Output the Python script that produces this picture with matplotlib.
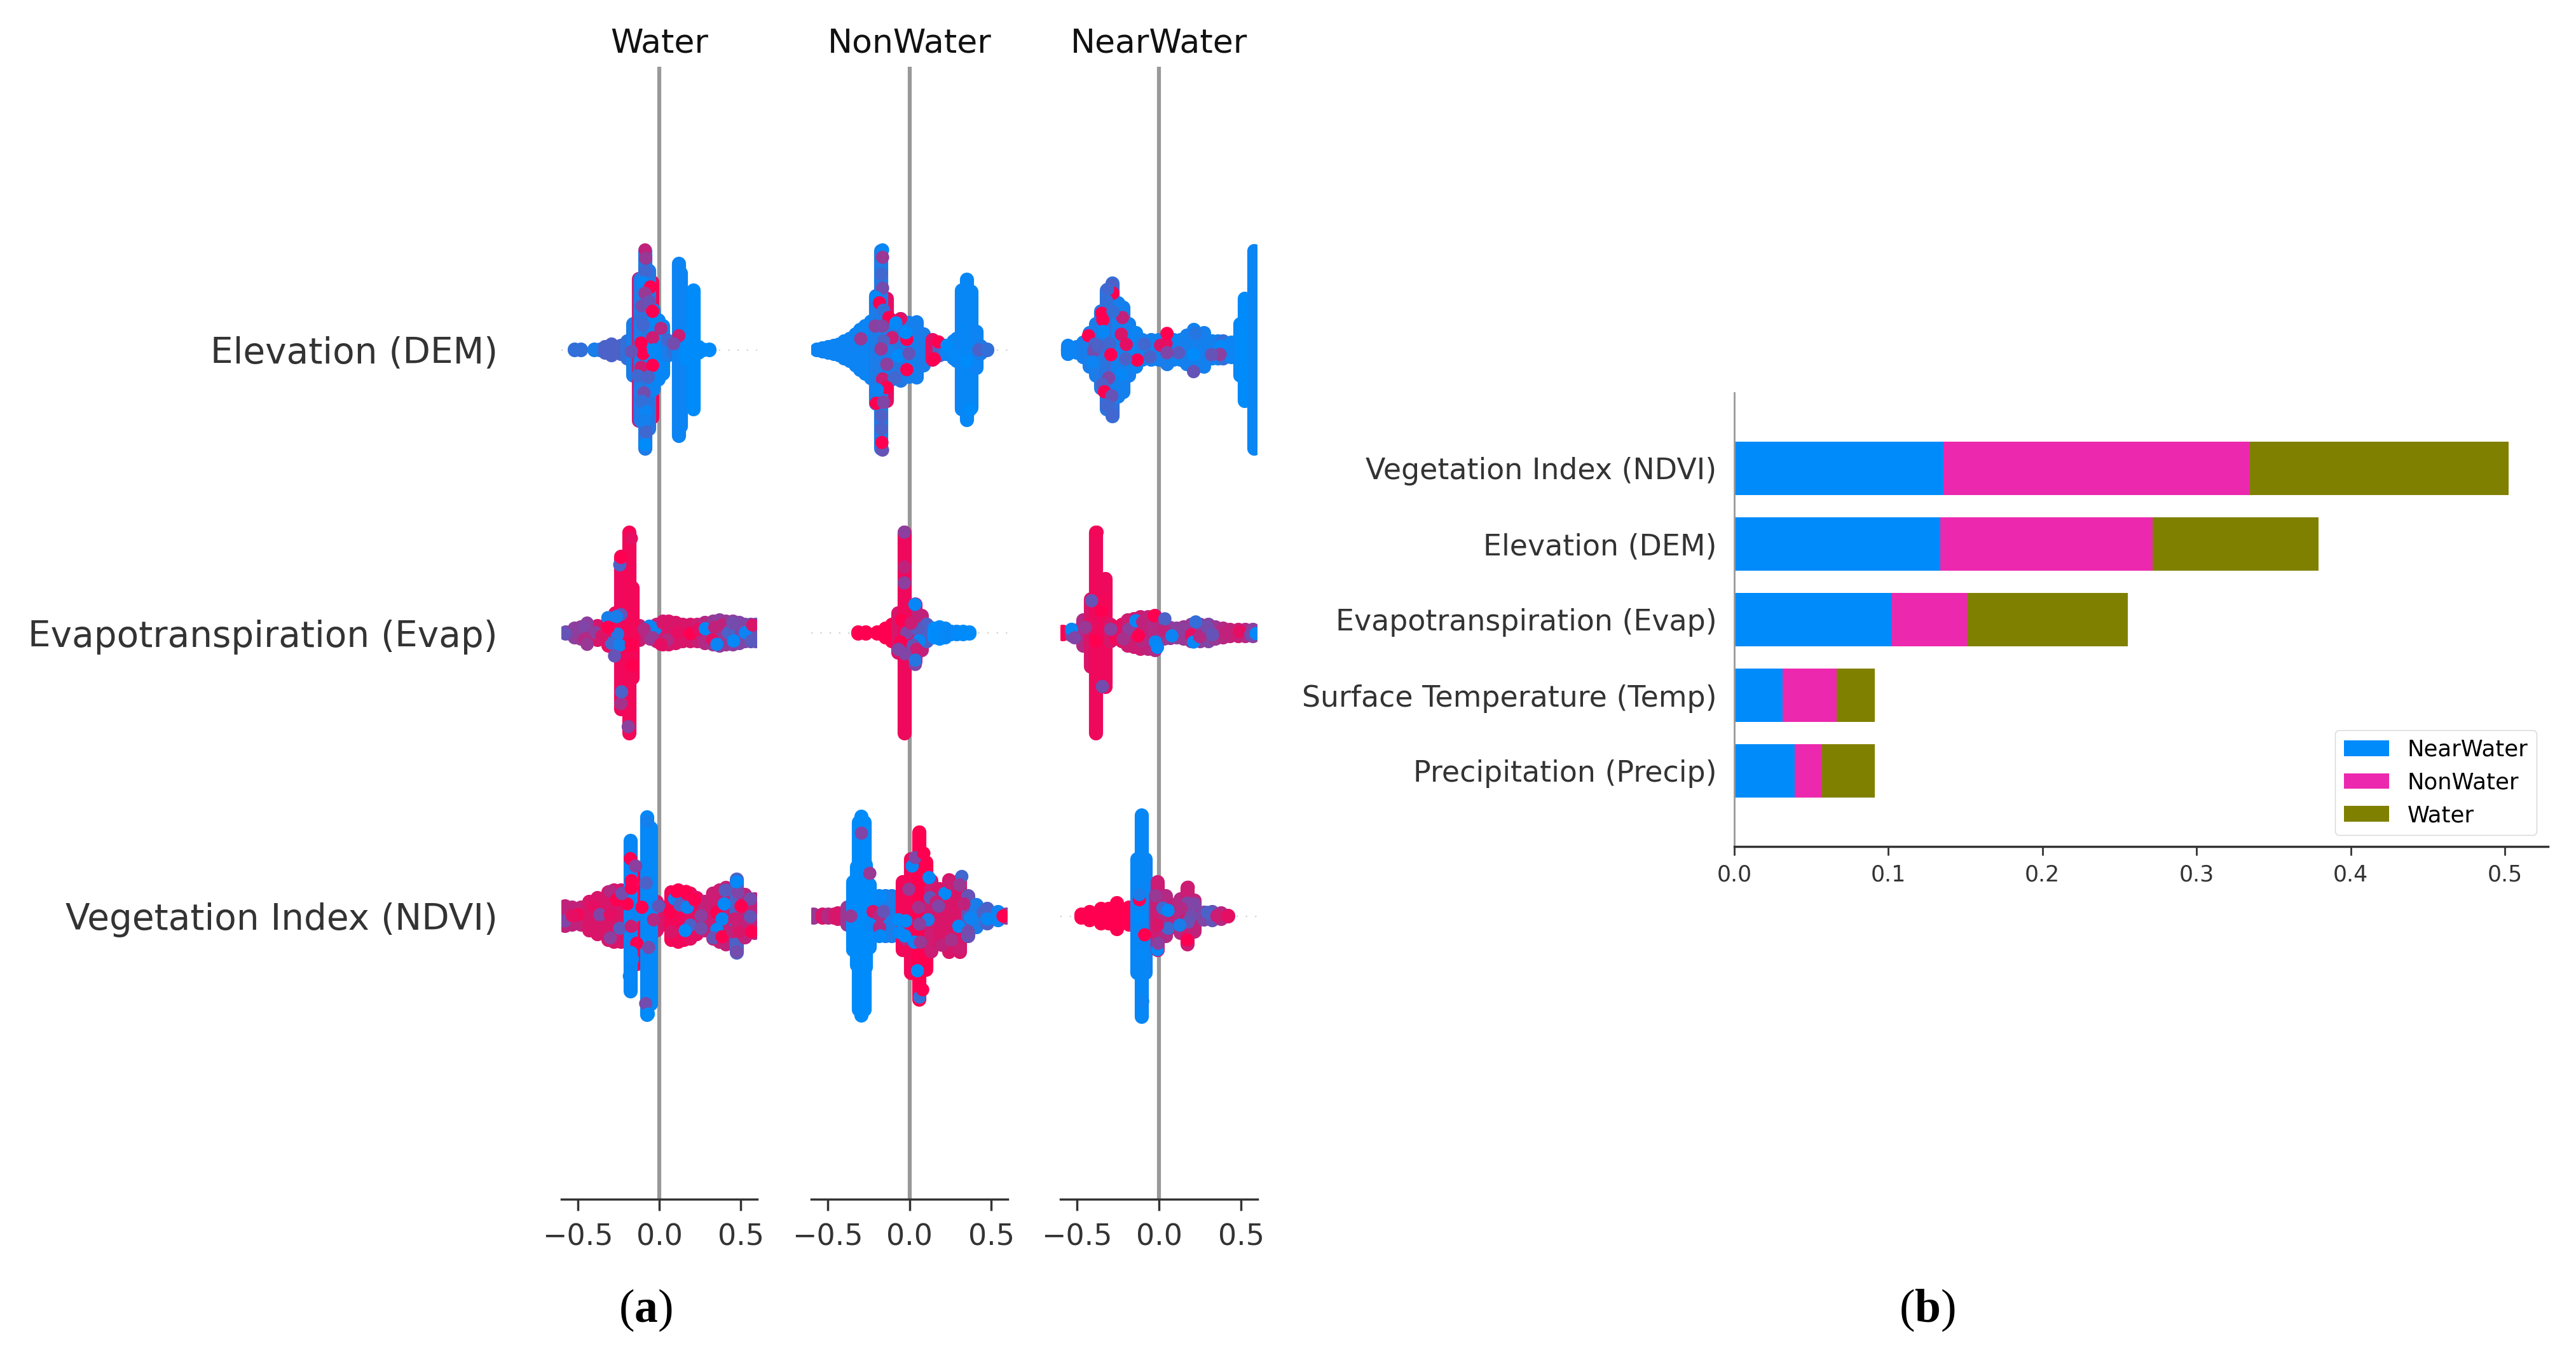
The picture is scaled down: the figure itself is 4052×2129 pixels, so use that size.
#import numpy for arrays and matplotlib for the plotting
import numpy as np
import matplotlib
matplotlib.use('Agg')
import matplotlib.pyplot as plt
from matplotlib.colors import LinearSegmentedColormap

plt.rcParams['font.family'] = 'DejaVu Sans'
plt.rcParams['mathtext.fontset'] = 'custom'
plt.rcParams['mathtext.bf'] = 'Liberation Serif:bold'
plt.rcParams['mathtext.rm'] = 'Liberation Serif'

classes = ['Water', 'NonWater', 'NearWater']
swarm_features = ['Vegetation Index (NDVI)', 'Evapotranspiration (Evap)', 'Elevation (DEM)']
swarm_ticks = [-0.5, 0.0, 0.5]

bar_features = ['Precipitation (Precip)', 'Surface Temperature (Temp)', 'Evapotranspiration (Evap)',
                'Elevation (DEM)', 'Vegetation Index (NDVI)']
near_water = [0.0391, 0.0313, 0.1025, 0.1335, 0.1356]
non_water = [0.0178, 0.0352, 0.0484, 0.1380, 0.1986]
water = [0.0342, 0.0246, 0.1043, 0.1075, 0.1683]
bar_ticks = [0.0, 0.1, 0.2, 0.3, 0.4, 0.5]

# swarm columns: (shap value, half height of the stack, feature value 0-1)
water_dem_cols = [(-.519,.002,.2),(-.481,.002,.2),(-.397,.002,.1),(-.364,.002,.1),(-.332,.01,.3),(-.293,.02,.3),
    (-.235,.015,.3),(-.196,.03,.2),(-.158,.09,.1),(-.041,.24,1),(-.125,.25,.75),(-.112,.25,.12),(-.087,.35,.12),
    (-.061,.28,.15),(-.035,.14,.05),(-.003,.105,.03),(.023,.085,.03),(.056,.02,.1),(.09,.01,.2),(.12,.305,.05),(.133,.27,.05),
    (.165,.03,0),(.211,.21,0),(.243,.01,0),(.269,.002,0),(.307,.002,0)]
water_dem_dots = [(-.087,.353,.75),(-.083,.323,.6),(-.087,.278,.25),(-.099,.237,.02),(-.054,.222,1),(-.087,.20,.6),
    (-.106,.155,.45),(-.061,.17,.4),(-.041,.136,1),(-.112,.11,.2),(-.099,.087,.25),(.01,.076,.7),(-.041,.043,.8),
    (-.112,.024,1),(-.099,-.013,1),(-.035,0,.02),(.049,.035,.25),(.12,.05,.8),(.088,.022,.45),(-.112,-.062,.8),
    (-.041,-.055,1),(-.132,-.092,.25),(-.067,-.096,.3),(-.093,-.152,.45),(-.106,-.182,.2),(-.08,-.219,.05),
    (-.087,-.249,.08),(-.08,-.29,.25),(-.087,-.335,0),(-.171,-.006,.4)]

nonwater_dem_cols = [(-.565,.002,.05),(-.53,.005,.05),(-.494,.01,.05),(-.46,.015,.05),(-.429,.02,.05),(-.397,.03,.05),
    (-.364,.04,.05),(-.33,.055,.05),(-.30,.07,.05),(-.27,.085,.05),(-.235,.1,.05),
    (-.203,.19,.1),(-.138,.18,.9),(-.171,.35,.12),(-.106,.105,.1),(-.054,.108,.15),(-.003,.095,.1),(.043,.097,.08),
    (.088,.055,.1),(.14,.035,.9),(.185,.02,.3),(.224,.015,.05),(.269,.03,.05),(.288,.04,.05),(.32,.21,.04),
    (.353,.247,.03),(.379,.205,.03),(.411,.065,.05),(.437,.012,.1),(.475,.002,.2)]
nonwater_dem_dots = [(-.164,.353,.03),(-.164,.327,.6),(-.171,.267,.25),(-.164,.218,.45),(-.203,.185,.02),(-.183,.166,1),
    (-.158,.14,.2),(-.125,.114,1),(-.209,.084,.55),(-.164,.084,.5),(-.054,.11,.9),(-.083,.095,.02),(-.016,.037,1),
    (-.022,.061,0),(-.106,.043,.8),(-.297,.039,.6),(-.158,.031,.3),(-.173,.003,.6),(-.067,-.021,0),(-.003,-.013,.4),
    (-.138,-.051,.55),(-.016,-.07,1),(-.164,-.103,.8),(-.093,-.099,.25),(-.138,-.133,1),(-.196,-.141,.05),
    (-.203,-.189,1),(-.158,-.185,.5),(-.171,-.234,.3),(-.171,-.279,.3),(-.164,-.354,.4),(-.168,-.327,1),(.178,.028,1),
    (.152,-.032,1),(.23,.016,0),(.269,-.017,.02),(.353,-.04,0),(.372,-.212,0),(.424,0,.3),(.475,0,.2)]

nearwater_dem_cols = [(-.552,.015,.05),(-.50,.01,.05),(-.461,.025,.08),(-.422,.06,.1),(-.384,.09,.1),(-.351,.135,.12),
    (-.319,.21,.15),(-.283,.235,.2),(-.248,.165,.08),(-.216,.15,.08),(-.183,.09,.08),(-.138,.06,.05),(-.099,.035,.08),
    (-.048,.035,.08),(0.0,.035,.08),(.049,.05,.1),(.09,.035,.08),(.133,.035,.05),(.17,.05,.08),(.211,.07,.08),(.275,.06,.08),
    (.327,.03,.08),(.36,.03,.08),(.391,.03,.2),(.443,.025,.05),(.495,.09,.02),(.521,.18,0),(.547,.17,0),(.579,.35,.04)]
nearwater_dem_dots = [(-.287,.229,.3),(-.28,.20,1),(-.313,.214,.25),(-.319,.173,.2),(-.348,.129,1),(-.342,.106,1),
    (-.222,.114,.75),(-.28,.136,.2),(-.429,.05,1),(-.339,.065,.03),(-.229,.055,.85),(-.39,.02,.3),(-.30,.02,.25),
    (-.199,.019,.9),(-.397,-.004,.45),(-.132,-.036,1),(-.203,-.032,.3),(-.293,-.017,1),(-.403,-.043,.05),(-.089,.02,.25),
    (-.054,-.025,.3),(.01,.016,.85),(.043,.022,.9),(.12,-.01,.35),(.049,-.01,.5),(.224,.058,.15),(.211,-.017,0),
    (.379,.013,.02),(.372,-.016,.55),(-.229,-.088,.03),(-.306,-.099,.5),(-.345,-.122,.3),(-.332,-.148,1),(-.287,-.163,.4),
    (-.319,-.197,.25),(-.283,-.23,.25),(.32,-.017,.4),(.049,.058,1),(.211,-.077,.4),(-.371,.013,.3)]

water_evap_cols = [(-.571,.002,.45),(-.519,.015,.55),(-.48,.02,.6),(-.442,.03,.7),(-.377,.025,.85),(-.313,.045,.9),(-.119,.025,.8),
    (-.054,.02,.65),(-.015,.03,.75),(.023,.04,.8),(.06,.04,.85),(.101,.035,.85),(.145,.03,.85),(.191,.03,.85),(.235,.03,.8),
    (.282,.035,.7),(.33,.04,.6),(.372,.045,.55),(.41,.04,.6),(.45,.04,.55),(.49,.035,.5),
    (.527,.03,.5),(.56,.03,.45),(.592,.03,.4),(-.267,.07,.9),(-.235,.27,.93),(-.183,.355,.95),(-.164,.16,.95)]
water_evap_dots = [(-.242,.241,.3),(-.235,.267,1),(-.186,.353,.97),(-.171,.334,.9),(-.19,-.331,.55),(-.235,-.249,.65),
    (-.231,-.208,.3),(-.164,-.114,1),(-.235,.065,.4),(-.261,.058,.1),(-.315,.054,.1),(-.255,-.004,.15),(-.293,-.036,.25),
    (-.244,-.043,.08),(-.274,-.081,.4),(-.022,.016,.08),(-.061,.024,.03),(-.442,.035,.55),(-.468,.02,.5),(-.532,.005,.55),
    (-.578,-.002,.4),(-.39,.001,.55),(-.455,-.021,.7),(-.442,-.04,.6),(-.351,-.01,.85),(-.313,.02,1),(-.171,-.043,1),
    (-.093,.013,.7),(-.041,-.017,.6),(.023,.035,.85),(.049,-.025,.7),(.114,.001,.9),(.191,-.002,1),(.243,.013,.9),
    (.282,.015,.02),(.34,.02,.75),(.385,.028,.75),(.327,-.025,.9),(.353,-.04,.05),(.424,.001,.3),(.456,-.028,.02),
    (.527,.001,.05),(.566,-.028,.35),(.572,.028,.85),(.45,.035,.45),(.01,-.04,.9)]

nonwater_evap_cols = [(-.313,.002,1),(-.267,.002,1),(-.196,.002,1),(-.145,.015,1),(-.106,.03,1),(-.067,.07,.85),
    (-.003,.085,.8),(.036,.10,.75),(.075,.06,.75),(.107,.03,.3),(.152,.015,0),(.185,.02,0),(.22,.015,.02),(.256,.005,.03),
    (.29,.005,.02),(.327,.005,0),(.366,.002,0),(-.031,.355,.93)]
nonwater_evap_dots = [(-.031,.356,.55),(-.031,.233,.75),(-.031,.177,.55),(.034,.101,.03),(-.048,.046,1),(-.016,.001,.5),
    (.049,.013,.35),(.059,-.028,.03),(-.054,-.032,1),(.023,-.043,.4),(.043,-.058,.8),(-.028,-.073,.5),(-.067,-.058,.5),
    (.036,-.111,.5),(.036,-.096,.15),(.01,.035,.8)]

nearwater_evap_cols = [(-.584,.005,1),(-.532,.01,.5),(-.5,.01,.6),(-.461,.045,.7),(-.416,.12,.85),(-.326,.19,.93),(-.293,.03,.85),
    (-.261,.02,.95),(-.225,.03,.9),(-.19,.045,.8),(-.15,.05,.8),(-.112,.055,.8),(-.065,.055,.75),(-.022,.06,.7),(.03,.02,.6),
    (.07,.018,.6),(.107,.015,.55),(.15,.02,.6),(.198,.03,.6),(.25,.03,.55),(.301,.03,.5),(.345,.02,.6),
    (.391,.015,.7),(.435,.012,.75),(.482,.012,.8),(.525,.012,.7),(.572,.012,.55),(-.384,.355,.93)]
nearwater_evap_dots = [(-.377,.356,.95),(-.532,.013,.03),(-.513,-.017,.5),(-.416,.031,.9),(-.448,.02,.6),(-.351,.08,1),
    (-.332,.117,.95),(-.41,.114,.4),(-.293,.013,.55),(-.384,-.028,1),(-.183,.013,.55),(-.216,-.021,.65),(-.141,.043,.03),
    (-.099,.039,.75),(-.035,.028,.7),(-.028,.061,1),(-.106,-.028,.7),(-.125,-.01,1),(-.022,-.032,.03),(-.009,-.051,.02),
    (.03,.009,.75),(.079,-.01,.05),(.146,.013,.55),(.198,-.006,.9),(.211,-.032,.02),(.249,-.013,.7),(.295,.02,.45),
    (.327,-.006,.4),(.404,.001,.75),(.495,.005,.9),(.559,-.006,.45),(-.345,-.189,.45),(.592,-.002,.02),(.224,.039,.2),
    (.036,.05,.3)]

water_ndvi_cols = [(-.578,.035,.75),(-.532,.03,.75),(-.481,.03,.75),(-.429,.05,.85),(-.377,.065,.85),(-.313,.085,.85),
    (-.275,.09,.85),(-.235,.09,.85),(-.10,.08,.9),(-.016,.05,.85),(.023,.03,.85),(.075,.085,.95),(.115,.09,.95),(.152,.085,.95),
    (.19,.08,.9),(.23,.065,.9),(.282,.05,.75),(.333,.08,.8),(.37,.09,.8),(.411,.10,.75),(.475,.13,.3),(.527,.075,.75),
    (.585,.06,.75),(-.138,.17,1),(-.177,.265,.03),(-.074,.35,.02),(-.052,.31,.02)]
water_ndvi_dots = [(-.578,-.017,.5),(-.50,.005,.95),(-.532,.001,.9),(-.403,.035,.9),(-.364,.005,.5),(-.30,.087,.7),
    (-.261,.058,1),(-.30,.005,.9),(-.242,-.043,.35),(-.30,-.077,.55),(-.196,.043,1),(-.229,.08,.45),(-.171,-.036,.8),
    (-.177,.203,1),(-.145,.177,.55),(-.171,.125,1),(-.171,.099,1),(-.08,.117,.3),(-.138,.005,.05),(-.138,-.096,1),
    (-.065,-.111,.45),(-.003,.035,.4),(-.035,-.013,.7),(-.106,.031,1),(.068,.016,1),(.094,.061,.05),(.127,.039,.3),
    (.172,.031,.05),(.191,-.032,.3),(.159,-.051,0),(.256,.001,.55),(.256,-.043,.45),(.075,-.055,.85),(.107,.087,1),
    (.165,.087,1),(.217,.058,1),(.353,.013,1),(.327,.08,.8),(.404,.091,.35),(.482,.084,.5),(.475,.121,.02),(.398,.043,.02),
    (.385,-.01,.03),(.353,-.047,.02),(.331,-.077,.4),(.385,-.073,1),(.475,-.126,.45),(.559,.061,.45),(.559,-.002,.4),
    (.463,-.01,.8),(.501,.035,1),(.566,-.055,1),(.45,-.055,.75),(-.083,-.309,.45),(-.171,-.129,.02),(-.183,-.212,.02),
    (-.164,-.152,.02),(-.067,-.346,0),(-.067,.274,.02),(-.074,.334,.08),(.488,-.055,.85)]

nonwater_ndvi_cols = [(-.584,.005,.6),(-.532,.005,.85),(-.494,.005,.7),(-.46,.005,.8),(-.435,.01,.85),(-.377,.03,.6),(-.183,.07,.05),
    (-.145,.07,.08),(-.106,.07,.1),(-.041,.12,.95),(.01,.20,.95),(.062,.295,1),(.101,.19,1),(.133,.125,.8),(.185,.095,.85),(.243,.127,.85),
    (.307,.127,.85),(.359,.07,.4),(.411,.04,.1),(.475,.025,.3),(.54,.015,.05),(.592,.005,.6),(-.242,.11,.02),(-.267,.18,0),
    (-.345,.12,0),(-.319,.175,0),(-.31,.33,0),(-.275,.33,0),(-.293,.352,0)]
nonwater_ndvi_dots = [(-.293,.293,.5),(-.242,.151,.6),(-.177,.069,.02),(-.222,.016,.85),(-.183,.001,.7),(-.235,-.032,.03),
    (-.183,-.04,.7),(-.067,-.013,0),(-.022,-.017,.02),(.075,.17,1),(.062,.121,1),(.017,.177,.03),(-.003,.095,.6),(.036,.207,.5),
    (.088,.222,1),(.062,.297,1),(.12,.136,.02),(.217,.08,.02),(.249,.117,.8),(.32,.14,.25),(.307,.11,.6),(.127,.065,.4),
    (.165,.05,.8),(.056,.031,.65),(.114,-.013,.1),(.062,-.028,.55),(-.022,-.081,.7),(.03,-.092,.05),(.068,-.092,.6),
    (.301,-.036,.02),(.359,-.055,.45),(.372,-.006,.05),(.45,.013,.3),(.475,-.01,.03),(.572,0,1),(.198,-.103,.75),(.301,-.114,.8),
    (.224,-.047,.85),(.049,-.193,0),(.062,-.286,.2),(.081,-.26,1),(.256,-.084,.65),(.178,.035,.5),(.333,.043,.75),(-.028,-.07,.02),
    (-.061,-.058,.02),(-.177,-.07,.02),(-.158,.016,.4),(-.358,0,.6)]

nearwater_ndvi_cols = [(-.474,.005,1),(-.422,.015,1),(-.351,.025,1),(-.306,.025,1),(-.255,.045,1),(-.183,.03,1),
    (-.132,.2,.03),(-.08,.2,.05),(-.041,.05,.6),(-.009,.12,.8),(.043,.07,.7),(.088,.04,.75),(.133,.06,.7),(.174,.10,.8),
    (.217,.055,.75),(.275,.012,.5),(.327,.015,.4),(.379,.01,.7),(.42,.002,.85),(-.106,.355,.03)]
nearwater_ndvi_dots = [(-.119,.058,1),(-.119,.076,.1),(-.112,-.002,0),(-.087,-.066,1),(-.009,.116,.8),(-.022,.072,.6),
    (.023,.028,.25),(.056,.02,.02),(.056,-.043,.25),(-.009,-.118,.02),(-.005,-.096,.55),(.178,.102,.8),(.172,.046,.5),
    (.217,.043,.5),(.198,.001,.45),(.178,-.021,.4),(.127,-.032,.1),(.172,-.084,1),(.295,.013,.3),(.353,.001,.8),(.42,0,.9),
    (-.099,-.137,.02),(-.099,-.301,.05),(-.009,-.032,.85),(.133,.028,.7)]

panel_cols = [[water_ndvi_cols, water_evap_cols, water_dem_cols],
              [nonwater_ndvi_cols, nonwater_evap_cols, nonwater_dem_cols],
              [nearwater_ndvi_cols, nearwater_evap_cols, nearwater_dem_cols]]
panel_dots = [[water_ndvi_dots, water_evap_dots, water_dem_dots],
              [nonwater_ndvi_dots, nonwater_evap_dots, nonwater_dem_dots],
              [nearwater_ndvi_dots, nearwater_evap_dots, nearwater_dem_dots]]

W, H = 4052, 2129
COL_WIDTH = 16 #stack width in points
DOT = 15 #dot diameter in points
red_blue = LinearSegmentedColormap.from_list('red_blue', ['#008bfb', '#ff0051'])


#axes from a pixel box of the picture
def add_axes_px(fig, left, right, top, bottom):
    return fig.add_axes([left / W, 1 - bottom / H, (right - left) / W, (bottom - top) / H])


def draw_swarm(ax, row, cols, dots):
    x, h, v = np.array(cols).T
    ax.vlines(x, row - h, row + h, colors=red_blue(v), linewidth=COL_WIDTH, capstyle='round', zorder=3)
    dx, dy, dv = np.array(dots).T
    ax.scatter(dx, row + dy, c=dv, cmap=red_blue, vmin=0, vmax=1, s=DOT ** 2, linewidths=0, zorder=4)


fig = plt.figure(figsize=(W / 100, H / 100), dpi=100, facecolor='white')

# (a) swarm panels
panel_boxes = [(883, 1191), (1276, 1585), (1668, 1978)]
for i, name in enumerate(classes):
    ax = add_axes_px(fig, panel_boxes[i][0], panel_boxes[i][1], 105, 1887)
    ax.set_xlim(-0.6, 0.6)
    ax.set_ylim(-1, 3)
    ax.axvline(0, color='#999999', linewidth=4.5, zorder=1)
    for row in range(3):
        ax.axhline(row, color='#cccccc', linewidth=1.5, dashes=(1, 6), zorder=0)
        draw_swarm(ax, row, panel_cols[i][row], panel_dots[i][row])
    ax.set_title(name, fontsize=37.5, color='#111111', pad=16)
    for side in ['top', 'right', 'left']:
        ax.spines[side].set_visible(False)
    ax.spines['bottom'].set_color('#333333')
    ax.spines['bottom'].set_linewidth(2.5)
    ax.set_xticks(swarm_ticks)
    ax.tick_params(axis='x', labelsize=33, labelcolor='#333333', color='#333333', width=2.5, length=13, pad=14)
    if i == 0:
        ax.set_yticks(range(3))
        ax.set_yticklabels(swarm_features, fontsize=40.7, color='#333333')
        ax.tick_params(axis='y', length=0, pad=72)
    else:
        ax.set_yticks([])

# (b) stacked importance bars
bx = add_axes_px(fig, 2728, 4008, 618, 1332)
pos = np.arange(len(bar_features))
near = np.array(near_water)
non = np.array(non_water)
bx.barh(pos, near, height=0.7, color='#008bfb', label='NearWater')
bx.barh(pos, non, height=0.7, left=near, color='#ec28ae', label='NonWater')
bx.barh(pos, water, height=0.7, left=near + non, color='#808000', label='Water')
bx.set_xlim(0, 0.528)
bx.set_ylim(-1, 5)
bx.set_yticks(pos)
bx.set_yticklabels(bar_features, fontsize=33, color='#333333')
bx.set_xticks(bar_ticks)
bx.tick_params(axis='y', length=0, pad=20)
bx.tick_params(axis='x', labelsize=25, labelcolor='#333333', color='#333333', width=2, length=10, pad=10)
for side in ['top', 'right']:
    bx.spines[side].set_visible(False)
bx.spines['left'].set_color('#999999')
bx.spines['left'].set_linewidth(2)
bx.spines['bottom'].set_color('#333333')
bx.spines['bottom'].set_linewidth(2.5)
bx.legend(loc='lower right', fontsize=25.5)

fig.text(1015 / W, 1 - 2062 / H, r'($\mathbf{a}$)', family='Liberation Serif', fontsize=53, ha='center', va='center')
fig.text(3031 / W, 1 - 2062 / H, r'($\mathbf{b}$)', family='Liberation Serif', fontsize=53, ha='center', va='center')

fig.savefig('out.png', dpi=100, facecolor='white')
